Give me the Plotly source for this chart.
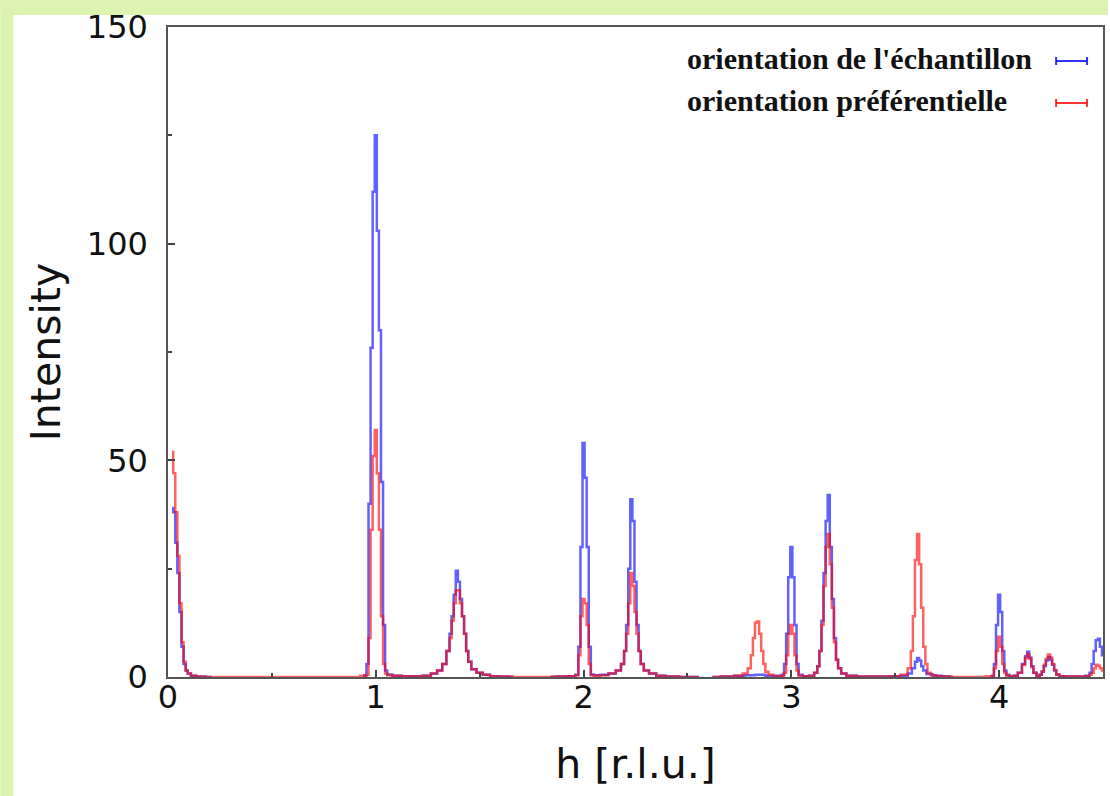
import plotly.graph_objects as go

# ---------------- data ----------------
h_blue = [0.02, 0.03, 0.04, 0.05, 0.06, 0.07, 0.08, 0.09, 0.10, 0.12, 0.15, 0.21, None,
          0.94, 0.95, 0.96, 0.97, 0.98, 0.99, 1.00, 1.01, 1.02, 1.03, 1.04, 1.05, 1.06, 1.10, 1.15, 1.20,
          1.25, 1.28, 1.31, 1.33, 1.35, 1.36, 1.37, 1.38, 1.39, 1.40, 1.41, 1.42, 1.43, 1.44, 1.45, 1.47,
          1.50, 1.53, 1.57, 1.62, 1.66, None,
          1.84, 1.90, 1.95, 1.97, 1.98, 1.99, 2.00, 2.01, 2.02, 2.03, 2.04, 2.06, 2.10, 2.14, 2.17, 2.19,
          2.20, 2.21, 2.22, 2.23, 2.24, 2.25, 2.26, 2.27, 2.28, 2.30, 2.33, 2.37, 2.42, 2.50, 2.556, None,
          2.62, 2.70, 2.75, 2.80, 2.85, 2.90, 2.95, 2.96, 2.97, 2.98, 2.99, 3.00, 3.01, 3.02, 3.03, 3.04,
          3.07, 3.10, 3.12, 3.13, 3.14, 3.15, 3.16, 3.17, 3.18, 3.19, 3.20, 3.21, 3.22, 3.23, 3.25, 3.28,
          3.35, 3.45, 3.50, 3.55, 3.57, 3.59, 3.60, 3.61, 3.62, 3.63, 3.64, 3.66, 3.70, 3.75, 3.78, None,
          3.96, 3.97, 3.98, 3.99, 4.00, 4.01, 4.02, 4.03, 4.04, 4.06, 4.08, 4.10, 4.12, 4.13, 4.14, 4.15,
          4.16, 4.17, 4.19, 4.20, 4.21, 4.22, 4.23, 4.24, 4.25, 4.26, 4.27, 4.28, 4.30, 4.35, 4.40, 4.43,
          4.44, 4.45, 4.46, 4.47, 4.48, 4.49, 4.50]
i_blue = [39, 38, 31, 24, 15, 7, 3, 1.5, 0.8, 0.3, 0.1, 0, None,
          0, 0.4, 3, 40, 76, 112, 125, 103, 80, 45, 12, 1.5, 0.6, 0.3, 0.2, 0.2,
          0.3, 0.8, 1.5, 3, 6, 10, 14, 19, 24.5, 22, 18, 14, 10, 6, 3.5, 1.8,
          1, 0.5, 0.2, 0.1, 0, None,
          0, 0.1, 0.2, 0.5, 7, 30, 54, 46, 30, 7, 0.6, 0.4, 0.5, 0.8, 1.5, 3,
          6, 12, 25, 41, 36, 22, 12, 6, 3, 1.5, 0.8, 0.3, 0.1, 0, 0, None,
          0, 0.1, 0.3, 0.4, 0.5, 0.3, 0.3, 0.5, 3, 10, 23, 30, 23, 12, 3, 0.5,
          0.2, 0.3, 1, 2.5, 6, 13, 24, 36, 42, 30, 18, 9, 4, 2, 0.8, 0.3,
          0.1, 0.1, 0.2, 0.3, 0.8, 2, 3.5, 4.4, 3.8, 2.5, 1.5, 0.7, 0.3, 0.1, 0, None,
          0, 0.3, 3, 12, 19, 15, 6, 1.5, 0.5, 0.2, 0.3, 1, 3, 4.8, 5.8, 4.5,
          2.5, 1, 0.3, 0.5, 1.2, 2.5, 3.8, 4.6, 4, 2.8, 1.5, 0.6, 0.2, 0.1, 0.1, 0.3,
          1, 3, 6, 8.5, 8.8, 7, 5]

h_red = [0.02, 0.03, 0.04, 0.05, 0.06, 0.07, 0.08, 0.09, 0.10, 0.12, 0.15, 0.20, 0.60, 0.90,
         0.95, 0.96, 0.97, 0.98, 0.99, 1.00, 1.01, 1.02, 1.03, 1.04, 1.05, 1.06, 1.10, 1.15, 1.20,
         1.25, 1.28, 1.31, 1.33, 1.35, 1.36, 1.37, 1.38, 1.39, 1.40, 1.41, 1.42, 1.43, 1.44, 1.45, 1.47,
         1.50, 1.53, 1.57, 1.62, 1.70, 1.80, 1.90, 1.95, 1.97, 1.98, 1.99, 2.00, 2.01, 2.02, 2.03, 2.04,
         2.06, 2.10, 2.14, 2.17, 2.19, 2.20, 2.21, 2.22, 2.23, 2.24, 2.25, 2.26, 2.27, 2.28, 2.30, 2.33,
         2.37, 2.42, 2.50, 2.556, None,
         2.62, 2.70, 2.75, 2.78, 2.80, 2.81, 2.82, 2.83, 2.84, 2.85, 2.86, 2.87, 2.88, 2.90, 2.93, 2.96,
         2.97, 2.98, 2.99, 3.00, 3.01, 3.02, 3.03, 3.04, 3.07, 3.10, 3.12, 3.13, 3.14, 3.15, 3.16, 3.17,
         3.18, 3.19, 3.20, 3.21, 3.22, 3.23, 3.25, 3.28, 3.35, 3.45, 3.50, 3.55, 3.57, 3.58, 3.59, 3.60,
         3.61, 3.62, 3.63, 3.64, 3.65, 3.66, 3.68, 3.72, 3.80, 3.90, 3.97, 3.98, 3.99, 4.00, 4.01, 4.02,
         4.03, 4.04, 4.06, 4.08, 4.10, 4.12, 4.13, 4.14, 4.15, 4.16, 4.17, 4.19, 4.20, 4.21, 4.22, 4.23,
         4.24, 4.25, 4.26, 4.27, 4.28, 4.30, 4.35, 4.40, 4.43, 4.44, 4.45, 4.46, 4.47, 4.48, 4.49, 4.50]
i_red = [52, 47, 38, 28, 17, 8, 3.5, 1.5, 0.8, 0.3, 0.1, 0, 0, 0,
         0.3, 0.5, 9, 34, 51, 57, 47, 34, 14, 3, 0.8, 0.4, 0.3, 0.2, 0.2,
         0.3, 0.8, 1.5, 3, 6, 9, 13, 17, 20, 20, 17, 14, 10, 6, 3.5, 1.8,
         1, 0.5, 0.2, 0.1, 0, 0, 0.1, 0.2, 0.4, 5, 14, 18, 17, 12, 3, 0.4,
         0.3, 0.4, 0.8, 1.5, 3, 6, 10, 17, 24, 21, 15, 10, 6, 3, 1.5, 0.8,
         0.3, 0.1, 0, 0, None,
         0, 0.1, 0.3, 0.8, 2, 5, 9, 12.5, 12.8, 10, 6, 3, 1.2, 0.5, 0.2, 0.3,
         1, 5, 10, 12, 10, 5, 1.5, 0.3, 0.2, 0.3, 1, 2.5, 6, 12, 21, 30,
         33, 26, 16, 8, 4, 2, 0.8, 0.3, 0.1, 0.1, 0.2, 0.5, 2, 6, 14, 27,
         33, 26, 16, 7, 3, 1, 0.4, 0.2, 0, 0, 0.2, 2, 6, 9.3, 7, 3,
         1, 0.3, 0.2, 0.3, 1, 2.8, 4.4, 5.3, 4.2, 2.3, 1, 0.3, 0.5, 1.3, 2.8, 4.2,
         5.2, 4.5, 3, 1.6, 0.6, 0.2, 0.1, 0.1, 0.2, 0.5, 1, 2, 2.8, 2.6, 2, 1.5]

series_names = ["orientation de l'échantillon", "orientation préférentielle"]
series_colors = ["rgba(0,0,255,0.62)", "rgba(255,0,0,0.62)"]
x_ticks = [0, 1, 2, 3, 4]
y_ticks = [0, 50, 100, 150]

# ---------------- figure ----------------
W, H = 1110, 796
L, R, T, B = 168, 5, 27, 119
pw, ph = W - L - R, H - T - B


def px(xp):
    return (xp - L) / pw


def py(yp):
    return (H - B - yp) / ph


fig = go.Figure()
fig.add_trace(go.Scatter(x=h_blue, y=i_blue, mode="lines", name=series_names[0],
                         line=dict(color=series_colors[0], width=2.5, shape="hvh"),
                         connectgaps=False, showlegend=False))
fig.add_trace(go.Scatter(x=h_red, y=i_red, mode="lines", name=series_names[1],
                         line=dict(color=series_colors[1], width=2.5, shape="hvh"),
                         connectgaps=False, showlegend=False))

axis_font = dict(family="DejaVu Sans, Liberation Sans, Arial", size=32, color="#111111")
title_font = dict(family="DejaVu Sans, Liberation Sans", size=41, color="#111111")

fig.update_layout(
    width=W, height=H,
    margin=dict(l=L, r=R, t=T, b=B),
    paper_bgcolor="white", plot_bgcolor="white",
    xaxis=dict(range=[0, 4.5], tickvals=x_ticks, ticks="inside", ticklen=7, tickwidth=1.5,
               tickcolor="#444444", showline=True, mirror=True, linecolor="#555555", linewidth=1.5,
               showgrid=False, zeroline=False, tickfont=axis_font, ticklabelstandoff=-9,
               minor=dict(ticks="inside", ticklen=4, dtick=0.5, tick0=0, tickcolor="#444444", tickwidth=1.5),
               title=dict(text="h [r.l.u.]", font=title_font, standoff=34)),
    yaxis=dict(range=[0, 150], tickvals=y_ticks, ticks="inside", ticklen=7, tickwidth=1.5,
               tickcolor="#444444", showline=True, mirror=True, linecolor="#555555", linewidth=1.5,
               showgrid=False, zeroline=False, tickfont=axis_font, ticklabelstandoff=12,
               minor=dict(ticks="inside", ticklen=4, dtick=25, tick0=0, tickcolor="#444444", tickwidth=1.5),
               title=dict(text="Intensity", font=title_font, standoff=13)),
    showlegend=False,
)

# legend built from annotations + error-bar style samples
legend_font = dict(family="Liberation Serif, Times New Roman, serif", size=30, color="#111111", weight="bold")
legend_rows = [58, 100]
for name, col, yrow in zip(series_names, series_colors, legend_rows):
    fig.add_annotation(xref="paper", yref="paper", x=px(686), y=py(yrow), text=name,
                       showarrow=False, xanchor="left", yanchor="middle", font=legend_font)
    solid = col.replace("0.62", "0.8")
    fig.add_shape(type="line", xref="paper", yref="paper", x0=px(1058), x1=px(1089),
                  y0=py(yrow + 3), y1=py(yrow + 3), line=dict(color=solid, width=2))
    for xc in (1058, 1089):
        fig.add_shape(type="line", xref="paper", yref="paper", x0=px(xc), x1=px(xc),
                      y0=py(yrow - 1), y1=py(yrow + 7), line=dict(color=solid, width=2))

# light green frame of the picture
green = "#dcf3b2"
fig.add_shape(type="rect", xref="paper", yref="paper", x0=px(0), x1=px(W), y0=py(0), y1=py(15),
              line=dict(width=0), fillcolor=green, layer="above")
fig.add_shape(type="rect", xref="paper", yref="paper", x0=px(0), x1=px(13), y0=py(0), y1=py(H),
              line=dict(width=0), fillcolor=green, layer="above")

fig.write_html("out.html", config={"displayModeBar": False})

# remove the default page margin so the figure sits at the window's top-left corner
with open("out.html", encoding="utf-8") as f:
    page = f.read()
page = page.replace("<head>", "<head><style>html,body{margin:0;padding:0;overflow:hidden;}</style>", 1)
with open("out.html", "w", encoding="utf-8") as f:
    f.write(page)
